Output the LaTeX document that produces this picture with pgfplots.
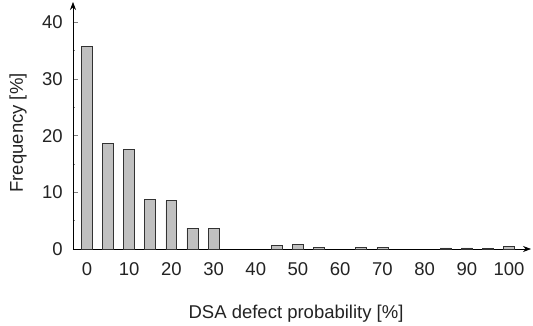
\documentclass[border=0pt]{standalone}
\usepackage{fontspec}
\setmainfont{Liberation Sans}
\usepackage{pgfplots}
\pgfplotsset{compat=1.18}
\usetikzlibrary{arrows.meta,calc}
\definecolor{barfill}{RGB}{192,192,192}
\definecolor{bardraw}{RGB}{50,50,50}
\definecolor{txt}{RGB}{35,35,35}
\begin{document}
\fontsize{18.5bp}{22bp}\selectfont
\begin{tikzpicture}
\begin{axis}[
  scale only axis, width=458bp, height=247bp,
  xmin=-3.3, xmax=105.2, ymin=0, ymax=43.6,
  axis x line=bottom, axis y line=left,
  axis line style={-{Stealth[length=8bp,width=6bp]}, black, line width=0.7bp},
  xtick={0,10,...,100}, ytick={0,10,...,40}, minor ytick={5,15,25,35},
  x tick style={draw=none},
  y tick style={gray, line width=0.7bp},
  major tick length=5bp, minor tick length=2.5bp,
  tick align=inside,
  /pgf/number format/assume math mode=true,
  tick label style={font=\fontsize{18.5bp}{22bp}\selectfont, text=txt},
  yticklabel style={xshift=-4bp},
  xticklabel style={yshift=-2bp},
  label style={font=\fontsize{18.5bp}{22bp}\selectfont, text=txt},
  ylabel={Frequency [\%]},
  ylabel style={at={(axis description cs:-0.12,0.47)}, anchor=center},
  xlabel={DSA defect probability [\%]},
  xlabel style={at={(axis description cs:0.487,-0.28)}, anchor=base},
  ybar, bar width=2.6,
  clip=false,
]
\addplot[ybar, fill=barfill, draw=bardraw, line width=0.7bp] coordinates {
  (0,35.7) (5,18.7) (10,17.6) (15,8.8) (20,8.5) (25,3.7) (30,3.65)
  (45,0.7) (50,0.8) (55,0.3) (65,0.3) (70,0.3) (85,0.2) (90,0.2) (95,0.15) (100,0.4)
};
\coordinate (o) at (rel axis cs:0,0);
\end{axis}
\pgfresetboundingbox
\path[use as bounding box] ($(o)+(-73bp,-77bp)$) rectangle ($(o)+(460bp,249bp)$);
\end{tikzpicture}
\end{document}
